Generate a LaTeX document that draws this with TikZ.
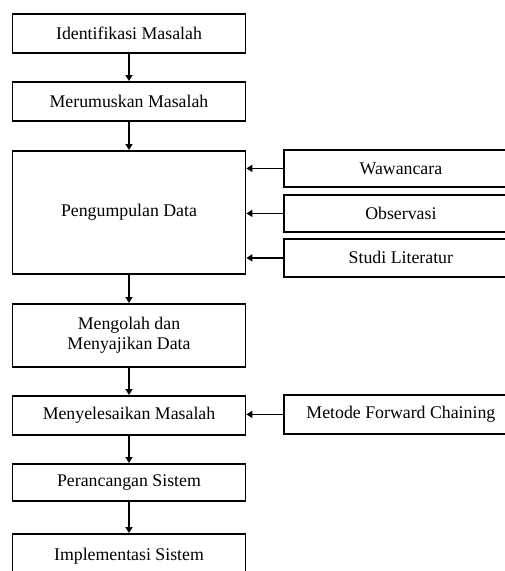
\documentclass[tikz,border=0pt]{standalone}
\usepackage{fontspec}
\setmainfont{Liberation Serif}
\usetikzlibrary{arrows.meta}
\begin{document}
\begin{tikzpicture}[x=1pt,y=-1pt,
  box/.style={draw, line width=1.8pt, minimum width=233pt, inner sep=0pt, align=center,
    font=\fontsize{17.8}{20}\selectfont, anchor=north},
  sidebox/.style={draw, line width=1.8pt, minimum width=234pt, inner sep=0pt, align=center,
    font=\fontsize{17.8}{20}\selectfont, anchor=north west},
  arr/.style={line width=1.8pt, -{Triangle[length=6pt,width=7pt]}}]
\useasboundingbox (0,0) rectangle (505,571);
\clip (0,0) rectangle (505,571);
\node[box, minimum height=39pt] (a) at (129,13) {Identifikasi Masalah};
\node[box, minimum height=39pt] (b) at (129,81) {Merumuskan Masalah};
\node[box, minimum height=123pt] (c) at (129,150) {Pengumpulan Data};
\node[box, minimum height=63pt] (d) at (129,303) {Mengolah dan\\Menyajikan Data};
\node[box, minimum height=39pt] (e) at (129,395) {Menyelesaikan Masalah};
\node[box, minimum height=37pt] (f) at (129,463) {Perancangan Sistem};
\node[box, minimum height=44pt] (g) at (129,533) {Implementasi Sistem};
\node[sidebox, minimum height=37pt] (w) at (283,149) {Wawancara};
\node[sidebox, minimum height=37pt] (o) at (283,194) {Observasi};
\node[sidebox, minimum height=38pt] (s) at (283,238) {Studi Literatur};
\node[sidebox, minimum height=39pt] (m) at (283,394) {Metode Forward Chaining};
\draw[arr] (a) -- (b);
\draw[arr] (b) -- (c);
\draw[arr] (c) -- (d);
\draw[arr] (d) -- (e);
\draw[arr] (e) -- (f);
\draw[arr] (f) -- (g);
\draw[arr] (w.west) -- (w.west -| c.east);
\draw[arr] (o.west) -- (o.west -| c.east);
\draw[arr] (s.west) -- (s.west -| c.east);
\draw[arr] (m.west) -- (m.west -| e.east);
\end{tikzpicture}
\end{document}
